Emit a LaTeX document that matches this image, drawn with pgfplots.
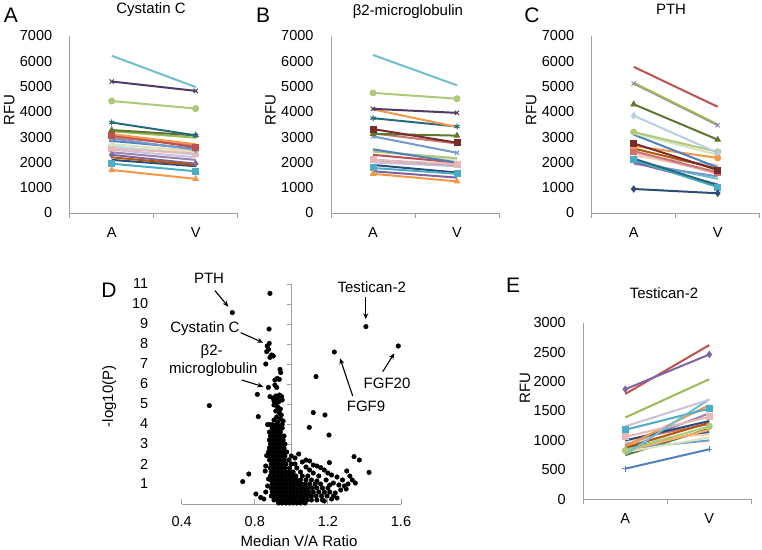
\documentclass[border=0pt]{standalone}
\usepackage{fontspec}
\setmainfont{Liberation Sans}
\usepackage{pgfplots}
\pgfplotsset{compat=1.18}
\usetikzlibrary{arrows.meta}

\definecolor{axgray}{HTML}{A0A0A0}
\definecolor{c1}{HTML}{4F81BD}
\definecolor{c2}{HTML}{C0504D}
\definecolor{c3}{HTML}{9BBB59}
\definecolor{c4}{HTML}{8064A2}
\definecolor{c5}{HTML}{4BACC6}
\definecolor{c6}{HTML}{F79646}
\definecolor{c7}{HTML}{2C4D75}
\definecolor{c8}{HTML}{772C2A}
\definecolor{c9}{HTML}{5F7530}
\definecolor{c10}{HTML}{4D3B62}
\definecolor{c11}{HTML}{276A7C}
\definecolor{c12}{HTML}{B65708}
\definecolor{c13}{HTML}{729ACA}
\definecolor{c14}{HTML}{CD7371}
\definecolor{c15}{HTML}{AFC97A}
\definecolor{c16}{HTML}{9983B5}
\definecolor{c17}{HTML}{6FBDD1}
\definecolor{c18}{HTML}{F9AB6B}
\definecolor{c19}{HTML}{B9CDE5}
\definecolor{c20}{HTML}{E6B9B8}
\definecolor{c21}{HTML}{D7E4BD}
\definecolor{c22}{HTML}{CCC1DA}
\definecolor{c23}{HTML}{B7DEE8}
\definecolor{c24}{HTML}{FCD5B5}

\newcommand\fs{\fontsize{14.5}{16}\selectfont}
\newcommand\ls{\fontsize{15}{17}\selectfont}
\newcommand\letterfont{\fontsize{21}{22}\selectfont}

\pgfplotsset{
  base/.style={scale only axis, axis lines*=left,
    axis line style={draw=axgray, line width=0.9pt},
    tick style={draw=axgray, line width=0.9pt}, major tick length=5pt,
    ticklabel style={font=\fs}, label style={font=\ls}, title style={font=\ls},
    /pgf/number format/assume math mode=true, /pgf/number format/1000 sep={},
    clip=false},
  lp/.style={base, width=168pt, height=177pt, xmin=0.5, xmax=2.5, ymin=0,
    tick align=outside,
    xtick={0.5,1.5,2.5}, xticklabels={},
    extra x ticks={1,2}, extra x tick labels={A,V},
    extra x tick style={major tick length=0pt},
    xticklabel style={yshift=-11pt},
    ytick style={draw=none}, yticklabel style={xshift=-9pt},
    ylabel={RFU}, ylabel style={at={(axis description cs:-0.36,0.58)}, anchor=center},
    every axis plot/.append style={line width=2pt, mark size=3pt,
      mark options={solid, line width=1pt}}},
}

\begin{document}
\begin{tikzpicture}
\useasboundingbox (0pt,0pt) rectangle (762pt,549pt);

% A: Cystatin C
\begin{axis}[lp, at={(69.7pt,336pt)}, anchor=south west, ymax=7000,
  ytick={0,1000,...,7000}, title={Cystatin C},
  title style={at={(axis description cs:0.484,1.15)}, anchor=center, yshift=-6pt}]
\addplot[c7] coordinates {(1,2100) (2,1850)};
\addplot[c1, mark=diamond*] coordinates {(1,2850) (2,2550)};
\addplot[c24] coordinates {(1,2600) (2,2400)};
\addplot[c23] coordinates {(1,2650) (2,2300)};
\addplot[c16] coordinates {(1,2400) (2,2100)};
\addplot[c22] coordinates {(1,2500) (2,2200)};
\addplot[c20, mark=square*] coordinates {(1,2550) (2,2350)};
\addplot[c21, mark=triangle*] coordinates {(1,2720) (2,2460)};
\addplot[c13, mark=diamond*] coordinates {(1,2950) (2,2500)};
\addplot[c14] coordinates {(1,3000) (2,2680)};
\addplot[c2, mark=square*] coordinates {(1,3080) (2,2600)};
\addplot[c6] coordinates {(1,3120) (2,2720)};
\addplot[c3] coordinates {(1,3230) (2,2980)};
\addplot[c9, mark=triangle*] coordinates {(1,3280) (2,3070)};
\addplot[c11, mark=asterisk] coordinates {(1,3580) (2,3070)};
\addplot[c4, mark=diamond*] coordinates {(1,2300) (2,1950)};
\addplot[c12] coordinates {(1,2200) (2,1900)};
\addplot[c5, mark=square*] coordinates {(1,1950) (2,1650)};
\addplot[c6, mark=triangle*] coordinates {(1,1700) (2,1350)};
\addplot[c15, mark=*] coordinates {(1,4430) (2,4130)};
\addplot[c10, mark=x] coordinates {(1,5200) (2,4830)};
\addplot[c17] coordinates {(1,6220) (2,4980)};
\end{axis}

% B: beta2-microglobulin
\begin{axis}[lp, at={(331pt,336pt)}, anchor=south west, ymax=7000,
  ytick={0,1000,...,7000}, title={β2-microglobulin},
  title style={at={(axis description cs:0.458,1.14)}, anchor=center, yshift=-6pt}]
\addplot[c7] coordinates {(1,1900) (2,1600)};
\addplot[c24] coordinates {(1,2050) (2,1950)};
\addplot[c22] coordinates {(1,2000) (2,1850)};
\addplot[c16] coordinates {(1,2100) (2,1900)};
\addplot[c20, mark=square*] coordinates {(1,2100) (2,1920)};
\addplot[c21] coordinates {(1,2450) (2,2100)};
\addplot[c2] coordinates {(1,2300) (2,2000)};
\addplot[c15] coordinates {(1,2430) (2,2170)};
\addplot[c1] coordinates {(1,2520) (2,2000)};
\addplot[c13, mark=x] coordinates {(1,3030) (2,2380)};
\addplot[c14] coordinates {(1,3150) (2,2750)};
\addplot[c9, mark=triangle*] coordinates {(1,3130) (2,3060)};
\addplot[c8, mark=square*] coordinates {(1,3320) (2,2780)};
\addplot[c11, mark=asterisk] coordinates {(1,3750) (2,3420)};
\addplot[c6] coordinates {(1,4100) (2,3400)};
\addplot[c10, mark=x] coordinates {(1,4120) (2,3960)};
\addplot[c4] coordinates {(1,1650) (2,1400)};
\addplot[c5, mark=square*] coordinates {(1,1780) (2,1550)};
\addplot[c6, mark=triangle*] coordinates {(1,1550) (2,1250)};
\addplot[c15, mark=*] coordinates {(1,4750) (2,4520)};
\addplot[c17] coordinates {(1,6250) (2,5050)};
\end{axis}

% C: PTH
\begin{axis}[lp, at={(591.7pt,336pt)}, anchor=south west, ymax=7000,
  ytick={0,1000,...,7000}, title={PTH},
  title style={at={(axis description cs:0.472,1.15)}, anchor=center, yshift=-6pt}]
\addplot[c22] coordinates {(1,2250) (2,1900)};
\addplot[c24] coordinates {(1,2300) (2,1650)};
\addplot[c17] coordinates {(1,2050) (2,1350)};
\addplot[c13] coordinates {(1,1950) (2,1450)};
\addplot[c4] coordinates {(1,2000) (2,1130)};
\addplot[c5, mark=square*] coordinates {(1,2100) (2,1020)};
\addplot[c11] coordinates {(1,2150) (2,1100)};
\addplot[c20] coordinates {(1,2400) (2,1550)};
\addplot[c14, mark=square*] coordinates {(1,2450) (2,1600)};
\addplot[c12] coordinates {(1,2550) (2,1750)};
\addplot[c6, mark=*] coordinates {(1,2650) (2,2180)};
\addplot[c8, mark=square*] coordinates {(1,2750) (2,1700)};
\addplot[c1] coordinates {(1,3100) (2,1800)};
\addplot[c21] coordinates {(1,3150) (2,2300)};
\addplot[c15, mark=*] coordinates {(1,3200) (2,2420)};
\addplot[c19, mark=diamond*] coordinates {(1,3850) (2,2380)};
\addplot[c9, mark=triangle*] coordinates {(1,4300) (2,2900)};
\addplot[c16, mark=x] coordinates {(1,5120) (2,3470)};
\addplot[c3] coordinates {(1,5150) (2,3500)};
\addplot[c2] coordinates {(1,5780) (2,4200)};
\addplot[c7, mark=diamond*] coordinates {(1,950) (2,780)};
\end{axis}

% D: volcano
\begin{axis}[base, at={(181.7pt,45pt)}, anchor=south west,
  width=219.3pt, height=220pt, xmin=0.4, xmax=1.6, ymin=0, ymax=11,
  tick align=inside, y axis line style={draw=none},
  xtick={0.4,0.8,1.2,1.6}, xticklabels={0.4,0.8,1.2,1.6},
  xticklabel style={yshift=-9pt},
  ytick={1,...,11}, ytick style={draw=none}, yticklabel style={xshift=-30pt},
  xlabel={Median V/A Ratio}, ylabel={-log10(P)},
  xlabel style={at={(axis description cs:0.535,-0.171)}, anchor=center},
  ylabel style={at={(axis description cs:-0.33,0.49)}, anchor=center}]
\draw[axgray, line width=0.9pt] (axis cs:1,0) -- (axis cs:1,11);
\pgfplotsinvokeforeach{1,...,11}{\draw[axgray, line width=0.9pt] (axis cs:1,#1) -- ++(-4pt,0pt);}
\addplot[only marks, mark=*, mark size=2.3pt, black] table {
x y
0.883 10.53
0.677 9.57
0.878 8.75
1.408 8.87
1.585 7.90
1.235 7.60
1.135 6.37
0.879 8.03
0.868 7.90
0.875 7.73
0.865 7.62
0.892 7.45
0.883 7.33
0.901 7.40
0.860 7.00
0.938 6.73
0.942 6.57
0.923 6.28
0.910 6.20
0.934 6.23
0.874 5.83
0.920 5.83
0.814 5.48
0.883 5.37
0.551 4.92
0.819 4.37
1.120 4.57
1.184 4.45
1.098 3.83
1.206 3.45
1.343 2.37
1.372 2.20
1.425 1.58
1.208 2.07
1.303 1.65
1.333 1.20
0.767 1.50
0.734 1.12
0.857 1.65
0.806 0.50
0.832 0.33
0.865 2.42
0.910 5.95
0.947 5.37
0.900 5.30
0.915 5.40
0.925 5.25
0.935 5.45
0.930 5.10
0.915 5.05
0.950 5.20
0.905 5.15
0.905 4.95
0.925 4.85
0.940 4.75
0.915 4.65
0.935 4.55
0.945 4.45
0.920 4.35
0.940 4.25
0.955 4.15
0.925 4.10
0.905 4.20
0.880 3.97
0.870 3.97
0.895 3.97
0.915 3.95
0.935 3.90
0.950 3.98
0.895 3.80
0.915 3.80
0.930 3.80
0.950 3.80
0.880 3.60
0.900 3.60
0.920 3.60
0.940 3.60
0.885 3.40
0.905 3.40
0.925 3.40
0.945 3.40
0.960 3.40
0.880 3.20
0.900 3.20
0.915 3.20
0.935 3.20
0.955 3.20
0.885 3.00
0.905 3.00
0.925 3.00
0.945 3.00
0.965 3.00
0.880 2.80
0.900 2.80
0.920 2.80
0.940 2.80
0.960 2.80
0.875 2.60
0.895 2.60
0.915 2.60
0.935 2.60
0.955 2.60
0.975 2.60
0.885 2.40
0.905 2.40
0.925 2.40
0.945 2.40
0.965 2.40
0.880 2.20
0.900 2.20
0.920 2.20
0.940 2.20
0.960 2.20
0.985 2.20
0.890 2.00
0.910 2.00
0.930 2.00
0.950 2.00
0.970 2.00
1.000 2.00
1.020 2.00
0.885 1.80
0.905 1.80
0.925 1.80
0.945 1.80
0.965 1.80
0.990 1.80
1.030 1.80
0.890 1.60
0.910 1.60
0.930 1.60
0.950 1.60
0.970 1.60
0.990 1.60
1.010 1.60
1.050 1.60
0.885 1.40
0.905 1.40
0.925 1.40
0.945 1.40
0.965 1.40
0.985 1.40
1.005 1.40
1.025 1.40
1.060 1.40
1.090 1.40
0.890 1.20
0.910 1.20
0.930 1.20
0.950 1.20
0.970 1.20
0.990 1.20
1.010 1.20
1.030 1.20
1.050 1.20
1.080 1.20
1.110 1.20
0.895 1.00
0.915 1.00
0.935 1.00
0.955 1.00
0.975 1.00
0.995 1.00
1.015 1.00
1.035 1.00
1.055 1.00
1.075 1.00
1.100 1.00
1.130 1.00
1.160 1.00
0.890 0.80
0.910 0.80
0.930 0.80
0.950 0.80
0.970 0.80
0.990 0.80
1.010 0.80
1.030 0.80
1.050 0.80
1.070 0.80
1.090 0.80
1.115 0.80
1.140 0.80
1.170 0.80
1.200 0.80
0.895 0.60
0.915 0.60
0.935 0.60
0.955 0.60
0.975 0.60
0.995 0.60
1.015 0.60
1.035 0.60
1.055 0.60
1.075 0.60
1.095 0.60
1.120 0.60
1.150 0.60
1.180 0.60
1.210 0.60
0.890 0.40
0.910 0.40
0.930 0.40
0.950 0.40
0.970 0.40
0.990 0.40
1.010 0.40
1.030 0.40
1.050 0.40
1.070 0.40
1.090 0.40
1.110 0.40
1.135 0.40
1.165 0.40
1.195 0.40
1.230 0.40
0.905 0.20
0.925 0.20
0.945 0.20
0.965 0.20
0.985 0.20
1.005 0.20
1.025 0.20
1.045 0.20
1.065 0.20
1.085 0.20
1.110 0.20
1.140 0.20
1.170 0.20
0.930 0.05
0.950 0.05
0.970 0.05
0.990 0.05
1.010 0.05
1.030 0.05
1.050 0.05
1.075 0.05
1.12 1.95
1.14 1.90
1.16 1.82
1.18 1.70
1.25 1.35
1.28 1.20
1.22 1.45
1.26 0.95
1.23 1.05
1.19 1.20
1.15 1.40
1.12 1.55
1.10 1.70
1.08 1.85
1.06 2.10
1.04 2.50
1.08 2.20
1.29 0.90
1.31 1.00
1.24 0.55
1.27 0.70
1.21 0.95
1.35 1.05
1.30 0.75
1.25 0.30
1.22 0.25
1.18 0.15
1.32 1.40
1.20 1.55
1.14 1.15
1.02 2.30
1.00 2.40
1.10 2.15
0.86 0.60
0.85 0.25
0.87 0.90
0.875 1.25
0.86 1.90
};
\end{axis}

% E: Testican-2
\begin{axis}[lp, at={(583.3pt,49.7pt)}, anchor=south west, height=176.6pt,
  ymax=3000, ytick={0,500,...,3000}, title={Testican-2},
  ylabel style={at={(axis description cs:-0.347,0.63)}},
  title style={at={(axis description cs:0.48,1.166)}, anchor=center, yshift=-6pt}]
\addplot[c19] coordinates {(1,950) (2,1120)};
\addplot[c11] coordinates {(1,870) (2,1150)};
\addplot[c14] coordinates {(1,1000) (2,1280)};
\addplot[c9] coordinates {(1,750) (2,1200)};
\addplot[c13] coordinates {(1,860) (2,1000)};
\addplot[c24] coordinates {(1,1000) (2,1100)};
\addplot[c16] coordinates {(1,920) (2,1460)};
\addplot[c21] coordinates {(1,800) (2,1050)};
\addplot[c18] coordinates {(1,820) (2,1180)};
\addplot[c15, mark=*] coordinates {(1,830) (2,1240)};
\addplot[c12] coordinates {(1,880) (2,1300)};
\addplot[c7] coordinates {(1,1000) (2,1330)};
\addplot[c6] coordinates {(1,900) (2,1600)};
\addplot[c20, mark=square*] coordinates {(1,1060) (2,1400)};
\addplot[c5, mark=square*] coordinates {(1,1180) (2,1540)};
\addplot[c17] coordinates {(1,760) (2,1700)};
\addplot[c22] coordinates {(1,1240) (2,1690)};
\addplot[c3] coordinates {(1,1390) (2,2040)};
\addplot[c2] coordinates {(1,1790) (2,2620)};
\addplot[c4, mark=diamond*] coordinates {(1,1870) (2,2460)};
\addplot[c1, mark=+] coordinates {(1,520) (2,850)};
\end{axis}

% panel letters
\node[font=\letterfont] at (11pt,534pt) {A};
\node[font=\letterfont] at (263pt,534pt) {B};
\node[font=\letterfont] at (532pt,534pt) {C};
\node[font=\letterfont] at (109pt,259pt) {D};
\node[font=\letterfont] at (513pt,264pt) {E};

% annotations in D
\begin{scope}[font=\ls, -{Stealth[length=6pt,width=5pt]}, line width=1.1pt]
\node at (209pt,271pt) {PTH};
\draw (215pt,258.3pt) -- (228.3pt,242.3pt);
\node at (205pt,220pt) {Cystatin C};
\draw (240.7pt,216.3pt) -- (263.3pt,206.3pt);
\node at (211.7pt,197.3pt) {β2-};
\node at (213.3pt,179pt) {microglobulin};
\draw (241.7pt,169pt) -- (263.3pt,162.3pt);
\node at (371.7pt,261.7pt) {Testican-2};
\draw (365.7pt,251.7pt) -- (365.7pt,229.7pt);
\node at (387pt,165.7pt) {FGF20};
\draw (382.7pt,177.3pt) -- (394.3pt,195.7pt);
\node at (366pt,143pt) {FGF9};
\draw (352.7pt,153pt) -- (340pt,190.7pt);
\end{scope}
\end{tikzpicture}
\end{document}
